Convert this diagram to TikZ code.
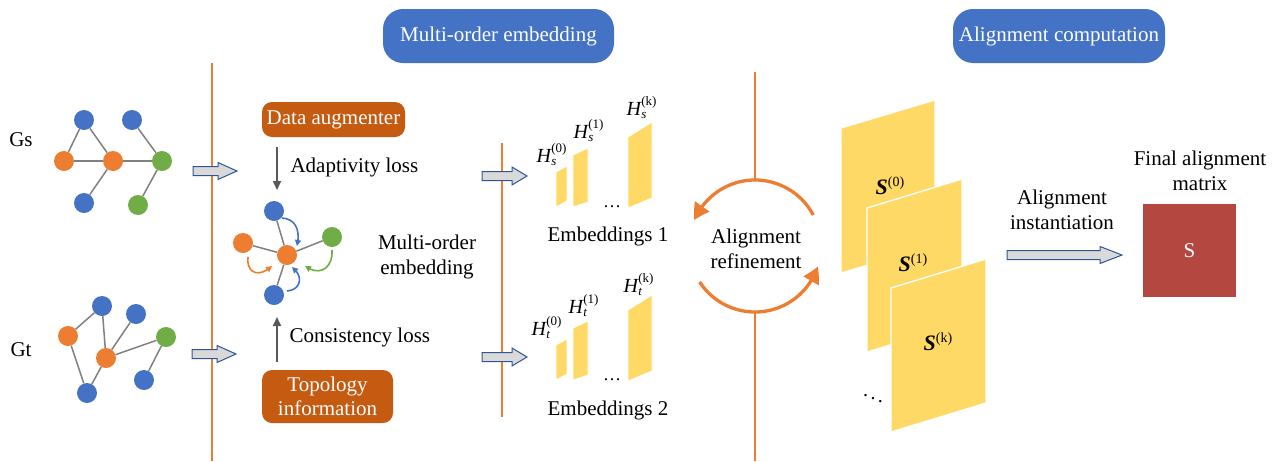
\documentclass[tikz,border=0pt]{standalone}
\usepackage{fontspec}
\setmainfont{Liberation Serif}
\usetikzlibrary{arrows.meta,bending}

\definecolor{bannerblue}{HTML}{4472C4}
\definecolor{boxorange}{HTML}{C55A11}
\definecolor{lineorange}{HTML}{ED7D31}
\definecolor{nblue}{HTML}{4472C4}
\definecolor{norange}{HTML}{ED7D31}
\definecolor{ngreen}{HTML}{70AD47}
\definecolor{embyellow}{HTML}{FFD966}
\definecolor{matred}{RGB}{180,71,64}
\definecolor{arrgray}{HTML}{595959}
\definecolor{edgegray}{HTML}{808080}
\definecolor{blockfill}{HTML}{D9D9D9}
\definecolor{blockedge}{HTML}{2F5597}

% H^{(i)}_{x} label in the text font
\newcommand\Hlab[2]{\textit{H}\kern-0.5pt\rlap{\raisebox{-3pt}{\fontsize{13}{13}\selectfont\textit{#1}}}\raisebox{10pt}{\fontsize{13}{13}\selectfont(#2)}}
% bold S^{(i)} label
\newcommand\Slab[1]{\textbf{\textit{S}}\raisebox{8pt}{\fontsize{14}{14}\selectfont(#1)}}

\begin{document}
\begin{tikzpicture}[x=1pt,y=-1pt,
  every node/.style={font=\fontsize{21}{25}\selectfont},
  banner/.style={fill=bannerblue, rounded corners=20pt, text=white, inner sep=0pt},
  obox/.style={fill=boxorange, rounded corners=10pt, text=white, inner sep=0pt, align=center},
  gnode/.style={circle, minimum size=20pt, inner sep=0pt},
  bl/.style={gnode, fill=nblue},
  og/.style={gnode, fill=norange},
  gr/.style={gnode, fill=ngreen},
  gedge/.style={draw=edgegray, line width=1.5pt},
  sepline/.style={draw=lineorange, line width=1.6pt},
  grayarr/.style={draw=arrgray, line width=2pt, -{Triangle[length=9pt,width=8pt]}},
  blockarrow/.style={fill=blockfill, draw=blockedge, line width=1pt, line join=miter},
  curv/.style={line width=1.6pt, -{Triangle[length=6pt,width=6pt]}},
  emb/.style={fill=embyellow, draw=white, line width=0.8pt},
  mat/.style={fill=embyellow, draw=white, line width=1.3pt},
  loop/.style={draw=lineorange, line width=3.3pt, -{Triangle[length=16pt,width=17pt,bend]}}
]
\useasboundingbox (0,0) rectangle (1276,461);

% ---------- section banners ----------
\node[banner, minimum width=231pt, minimum height=54pt] (ban1) at (498.5,36) {Multi-order embedding};
\node[banner, minimum width=212pt, minimum height=54pt] (ban2) at (1059,36) {Alignment computation};

% ---------- separator lines ----------
\draw[sepline] (212,63) -- (212,461);
\draw[sepline] (502,143) -- (502,417);
\draw[sepline] (755,72) -- (755,180);
\draw[sepline] (755,312) -- (755,461);

% ---------- source graph Gs ----------
\node (gs) at (21,140) {Gs};
\node[bl] (s1) at (84,120) {};
\node[bl] (s2) at (132,120) {};
\node[og] (s3) at (64,161) {};
\node[og] (s4) at (113,161) {};
\node[gr] (s5) at (162,161) {};
\node[bl] (s6) at (84,203) {};
\node[gr] (s7) at (138,205) {};
\foreach \a/\b in {s1/s3,s1/s4,s3/s4,s4/s5,s2/s5,s4/s6,s5/s7}
  \draw[gedge] (\a) -- (\b);

% ---------- target graph Gt ----------
\node (gt) at (21,350) {Gt};
\node[bl] (t1) at (102,306) {};
\node[bl] (t2) at (136,314) {};
\node[og] (t3) at (68,336) {};
\node[gr] (t4) at (166,337) {};
\node[og] (t5) at (106,358) {};
\node[bl] (t6) at (144,380) {};
\node[bl] (t7) at (87,393) {};
\foreach \a/\b in {t3/t1,t1/t5,t2/t5,t5/t4,t4/t6,t3/t7,t7/t5}
  \draw[gedge] (\a) -- (\b);

% ---------- block arrows into the embedding stage ----------
\draw[blockarrow, shift={(193,171)}] (0,-4.5) -- (25,-4.5) -- (25,-8.5) -- (44,0) -- (25,8.5) -- (25,4.5) -- (0,4.5) -- cycle;
\draw[blockarrow, shift={(192,354)}] (0,-4.5) -- (25,-4.5) -- (25,-8.5) -- (44,0) -- (25,8.5) -- (25,4.5) -- (0,4.5) -- cycle;

% ---------- augmenter / topology boxes ----------
\node[obox, minimum width=143pt, minimum height=35pt] (aug) at (333.5,119.5) {Data augmenter};
\node[obox, minimum width=131pt, minimum height=53pt] (topo) at (327.5,396.5) {Topology\\[-1pt]information};

\coordinate (adaend) at (277,190);
\coordinate (conend) at (277,317);
\draw[grayarr, shorten <=10pt] (aug.south -| adaend) -- (adaend);
\draw[grayarr, shorten <=8pt] (topo.north -| conend) -- (conend);
\node[anchor=west] (ada) at (287,167) {Adaptivity loss};
\node[anchor=west] (con) at (286,337) {Consistency loss};

% ---------- multi-order aggregation star ----------
\node[og] (c) at (287,255) {};
\node[bl] (u) at (274,211) {};
\node[og] (l) at (243,243) {};
\node[gr] (r) at (332,237) {};
\node[bl] (d) at (274,295) {};
\foreach \n in {u,l,r,d}
  \draw[gedge] (c) -- (\n);
\draw[curv, draw=nblue] (282,218) .. controls (298,219) and (300,234) .. (297,246);
\draw[curv, draw=ngreen] (332,250) .. controls (333,270) and (318,276) .. (305,266);
\draw[curv, draw=norange] (248,257) .. controls (246,272) and (258,279) .. (272,266);
\draw[curv, draw=nblue] (287,291) .. controls (301,290) and (304,276) .. (292,267);
\node[align=center] (moe) at (427,257) {Multi-order\\embedding};

% ---------- embeddings ----------
\draw[blockarrow, shift={(482,176)}] (0,-4.5) -- (30,-4.5) -- (30,-9) -- (45,0) -- (30,9) -- (30,4.5) -- (0,4.5) -- cycle;
\draw[blockarrow, shift={(482,357)}] (0,-4.5) -- (30,-4.5) -- (30,-9) -- (45,0) -- (30,9) -- (30,4.5) -- (0,4.5) -- cycle;

\foreach \dy in {0,173}{
  \begin{scope}[shift={(0,\dy)}]
    \draw[emb] (556,172) -- (567,166) -- (567,201) -- (556,207) -- cycle;
    \draw[emb] (573,155) -- (588,148) -- (588,202) -- (573,207) -- cycle;
    \draw[emb] (628,137) -- (652,122) -- (652,198) -- (628,208) -- cycle;
  \end{scope}
}
\node[anchor=base west, font=\fontsize{20}{20}\selectfont] (hs0) at (533,162) {\Hlab{s}{0}};
\node[anchor=base west, font=\fontsize{20}{20}\selectfont] (hs1) at (570,138) {\Hlab{s}{1}};
\node[anchor=base west, font=\fontsize{20}{20}\selectfont] (hsk) at (623,115) {\Hlab{s}{k}};
\node[anchor=base west, font=\fontsize{20}{20}\selectfont] (ht0) at (528,335) {\Hlab{t}{0}};
\node[anchor=base west, font=\fontsize{20}{20}\selectfont] (ht1) at (565,313) {\Hlab{t}{1}};
\node[anchor=base west, font=\fontsize{20}{20}\selectfont] (htk) at (620,292) {\Hlab{t}{k}};
\node[anchor=base, font=\fontsize{18}{18}\selectfont] (dots1) at (612,207) {…};
\node[anchor=base, font=\fontsize{18}{18}\selectfont] (dots2) at (612,380) {…};
\node (emb1) at (608,236) {Embeddings 1};
\node (emb2) at (608,410) {Embeddings 2};

% ---------- alignment refinement loop ----------
\draw[loop] (755,246) ++(-28:66) arc[start angle=-28, end angle=-157, radius=66];
\draw[loop] (755,246) ++(-213:66) arc[start angle=-213, end angle=-342, radius=66];
\node[align=center] (refine) at (756,249) {Alignment\\refinement};

% ---------- stacked alignment matrices ----------
\draw[mat] (841,128) -- (935,100) -- (935,245) -- (841,273) -- cycle;
\draw[mat] (867,208) -- (962,179) -- (962,323) -- (867,352) -- cycle;
\draw[mat] (891,288) -- (986,259) -- (986,403) -- (891,432) -- cycle;
\node[font=\fontsize{22}{22}\selectfont] (sm0) at (890,186) {\Slab{0}};
\node[font=\fontsize{22}{22}\selectfont] (sm1) at (913,263) {\Slab{1}};
\node[font=\fontsize{22}{22}\selectfont] (smk) at (938,342) {\Slab{k}};
\node[font=\fontsize{20}{20}\selectfont] (vdots) at (873,395) {$\ddots$};

% ---------- instantiation ----------
\node[align=center] (inst) at (1062,210) {Alignment\\instantiation};
\draw[blockarrow, shift={(1007,255)}] (0,-4.5) -- (93,-4.5) -- (93,-8.5) -- (115,0) -- (93,8.5) -- (93,4.5) -- (0,4.5) -- cycle;
\node[align=center] (final) at (1200,171) {Final alignment\\matrix};
\node[fill=matred, minimum width=93pt, minimum height=93pt, text=white, inner sep=0pt] (S) at (1189.5,250.5) {S};

\end{tikzpicture}
\end{document}
